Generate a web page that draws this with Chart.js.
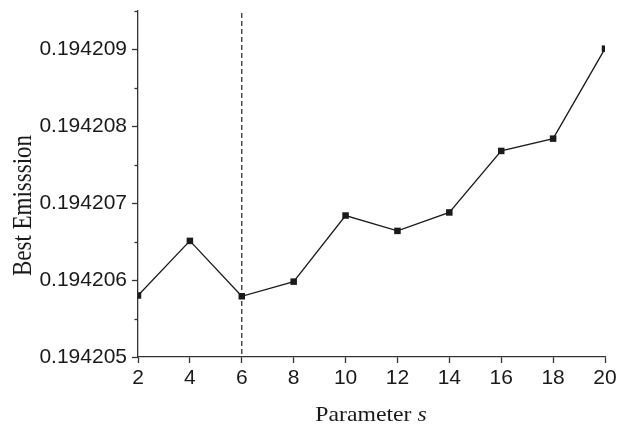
<!DOCTYPE html>
<html>
<head>
<meta charset="utf-8">
<script src="https://cdn.jsdelivr.net/npm/chart.js@4/dist/chart.umd.min.js"></script>
<style>
  html, body { margin: 0; padding: 0; background: #fff; }
  #wrap { width: 629px; height: 424px; position: relative; }
</style>
</head>
<body>
<div id="wrap"><canvas id="chart"></canvas></div>
<script>
const paramS = [2, 4, 6, 8, 10, 12, 14, 16, 18, 20];
const bestEmission = [0.1942058, 0.19420651, 0.19420579, 0.19420598, 0.19420684,
  0.19420664, 0.19420688, 0.19420768, 0.19420784, 0.19420901];
const yRange = [0.194205, 0.1942095];
const yStep = 0.000001;
const xRange = [2, 20];
const xStep = 2;
const markerS = 6;
const xTitle = "Parameter ";
const xTitleItalic = "s";
const yTitle = "Best Emisssion";

const axisColor = "#333";

// dashed marker line, minor ticks and the two axis titles
const extras = {
  id: "extras",
  beforeDatasetsDraw(chart) {
    const { ctx, chartArea, scales } = chart;
    const x = scales.x.getPixelForValue(markerS);
    ctx.save();
    ctx.strokeStyle = axisColor;
    ctx.lineWidth = 1.3;
    ctx.setLineDash([5, 3]);
    ctx.beginPath();
    ctx.moveTo(x, chartArea.top + 2);
    ctx.lineTo(x, chartArea.bottom);
    ctx.stroke();
    ctx.restore();
  },
  afterDraw(chart) {
    const { ctx, chartArea, scales } = chart;
    ctx.save();
    // minor y ticks
    ctx.strokeStyle = axisColor;
    ctx.lineWidth = 1.3;
    for (let v = yRange[0] + yStep / 2; v <= yRange[1] + 1e-12; v += yStep) {
      const y = Math.round(scales.y.getPixelForValue(v)) + 0.5;
      ctx.beginPath();
      ctx.moveTo(chartArea.left - 3.5, y);
      ctx.lineTo(chartArea.left, y);
      ctx.stroke();
    }
    ctx.fillStyle = "#1a1a1a";
    // x title
    ctx.font = "21px 'Liberation Serif', 'Times New Roman', serif";
    const w1 = ctx.measureText(xTitle).width;
    ctx.font = "italic 21px 'Liberation Serif', 'Times New Roman', serif";
    const w2 = ctx.measureText(xTitleItalic).width;
    const sx = 1.13;
    ctx.save();
    ctx.translate(371 - (w1 + w2) * sx / 2, 421);
    ctx.scale(sx, 1);
    ctx.textBaseline = "alphabetic";
    ctx.font = "21px 'Liberation Serif', 'Times New Roman', serif";
    ctx.fillText(xTitle, 0, 0);
    ctx.font = "italic 21px 'Liberation Serif', 'Times New Roman', serif";
    ctx.fillText(xTitleItalic, w1, 0);
    ctx.restore();
    // y title
    ctx.save();
    ctx.translate(22.5, 205.5);
    ctx.scale(1.15, 1);
    ctx.rotate(-Math.PI / 2);
    ctx.font = "23px 'Liberation Serif', 'Times New Roman', serif";
    ctx.textAlign = "center";
    ctx.textBaseline = "middle";
    ctx.fillText(yTitle, 0, 1);
    ctx.restore();
    ctx.restore();
  }
};

const tickFont = { family: "'Liberation Sans', Arial, sans-serif", size: 21 };

new Chart(document.getElementById("chart"), {
  type: "line",
  data: {
    datasets: [{
      data: paramS.map((s, i) => ({ x: s, y: bestEmission[i] })),
      borderColor: "#1a1a1a",
      borderWidth: 1.3,
      pointStyle: "rect",
      pointRadius: 4.6,
      pointBackgroundColor: "#1a1a1a",
      pointBorderWidth: 0,
      tension: 0,
      clip: 0
    }]
  },
  options: {
    responsive: true,
    maintainAspectRatio: false,
    animation: false,
    layout: {
      padding: { top: 11, right: 24, bottom: 0, left: 0 }
    },
    plugins: {
      legend: { display: false },
      tooltip: { enabled: false }
    },
    scales: {
      x: {
        type: "linear",
        min: xRange[0],
        max: xRange[1],
        afterFit: (scale) => {
          scale.height = 67;
          scale.paddingLeft = 0;
          scale.paddingRight = 0;
        },
        ticks: {
          stepSize: xStep,
          color: "#1a1a1a",
          font: tickFont,
          padding: 3,
          maxRotation: 0
        },
        grid: {
          drawOnChartArea: false,
          tickLength: 6,
          tickColor: axisColor,
          tickWidth: 1.3
        },
        border: { color: axisColor, width: 1.3 }
      },
      y: {
        min: yRange[0],
        max: yRange[1],
        afterFit: (scale) => {
          scale.width = 138;
          scale.paddingTop = 0;
          scale.paddingBottom = 0;
        },
        ticks: {
          stepSize: yStep,
          includeBounds: false,
          color: "#1a1a1a",
          font: tickFont,
          padding: 5,
          callback: (v) => v.toFixed(6)
        },
        grid: {
          drawOnChartArea: false,
          tickLength: 6,
          tickColor: axisColor,
          tickWidth: 1.3
        },
        border: { color: axisColor, width: 1.3 }
      }
    }
  },
  plugins: [extras]
});
</script>
</body>
</html>
